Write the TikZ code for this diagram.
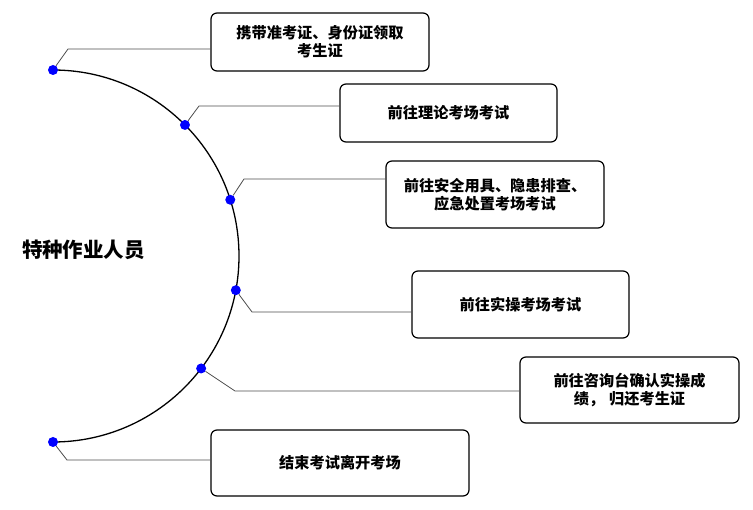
\documentclass[tikz,border=0pt]{standalone}
\usepackage{fontspec}
\setmainfont{Noto Sans CJK SC}
\begin{document}
\begin{tikzpicture}[x=1pt,y=-1pt,
    stepbox/.style={draw,rounded corners=6pt,line width=1.2pt,align=center,
      inner sep=0pt,font=\bfseries\fontsize{15.2}{18}\selectfont},
    dot/.style={circle,fill=blue,inner sep=0pt,minimum size=10pt},
    link/.style={draw=black!70,line width=0.8pt}]
  \useasboundingbox (0,0) rectangle (753,510);
  \node[font=\bfseries\fontsize{20.5}{24}\selectfont] (title) at (83.5,250) {特种作业人员};
  % half circle
  \draw[line width=1.3pt] (53,70) arc[start angle=-90,end angle=90,radius=186];
  \path[shift={(53,256)}]
    (-90:186) node[dot] (d1){}
    (-44.8:186) node[dot] (d2){}
    (-17.6:186) node[dot] (d3){}
    (10.6:186) node[dot] (d4){}
    (37.2:186) node[dot] (d5){}
    (90:186) node[dot] (d6){};
  % boxes
  \node[stepbox,minimum width=218pt,minimum height=58pt] (b1) at (320,42)
    {携带准考证、身份证领取\\考生证};
  \node[stepbox,minimum width=217pt,minimum height=58pt] (b2) at (448.5,113)
    {前往理论考场考试};
  \node[stepbox,minimum width=218pt,minimum height=67pt] (b3) at (495,194.5)
    {前往安全用具、隐患排查、\\应急处置考场考试};
  \node[stepbox,minimum width=217pt,minimum height=67pt] (b4) at (520.5,304.5)
    {前往实操考场考试};
  \node[stepbox,minimum width=219pt,minimum height=66pt] (b5) at (629.5,390)
    {前往咨询台确认实操成\\绩，\hspace{5pt}归还考生证};
  \node[stepbox,minimum width=258pt,minimum height=66pt] (b6) at (340,463)
    {结束考试离开考场};
  % links
  \coordinate (e1) at (68,49);
  \coordinate (e2) at (199,106);
  \coordinate (e3) at (244,179);
  \coordinate (e4) at (252,312);
  \coordinate (e5) at (235,391);
  \coordinate (e6) at (67,460);
  \begin{scope}[link]
    \draw (d1) -- (e1) -- (e1 -| b1.west);
    \draw (d2) -- (e2) -- (e2 -| b2.west);
    \draw (d3) -- (e3) -- (e3 -| b3.west);
    \draw (d4) -- (e4) -- (e4 -| b4.west);
    \draw (d5) -- (e5) -- (e5 -| b5.west);
    \draw (d6) -- (e6) -- (e6 -| b6.west);
  \end{scope}
\end{tikzpicture}
\end{document}
